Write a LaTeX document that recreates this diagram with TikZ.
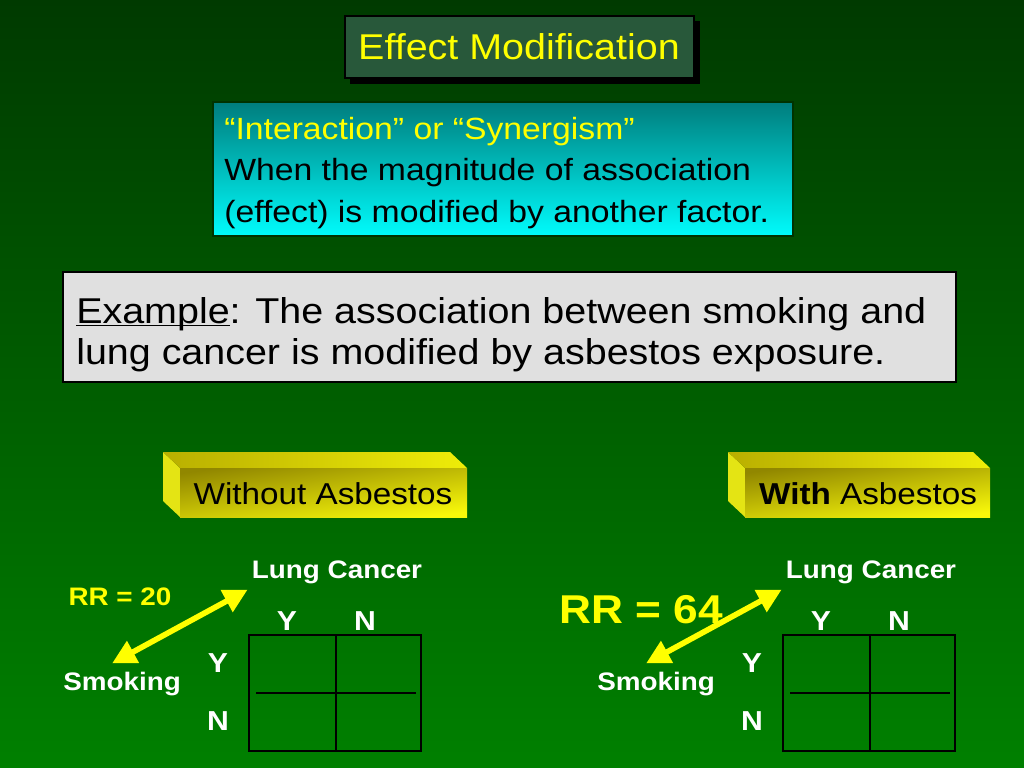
\documentclass[tikz,border=0pt]{standalone}
\usepackage{fontspec}
\setmainfont[FakeStretch=1.1]{Liberation Sans}
\usetikzlibrary{arrows.meta}
\definecolor{bgtop}{RGB}{0,58,0}
\definecolor{bgbottom}{RGB}{0,128,0}
\definecolor{titlegreen}{RGB}{40,88,58}
\definecolor{slideyellow}{RGB}{255,255,0}
\definecolor{tealtop}{RGB}{0,125,125}
\definecolor{cyanbottom}{RGB}{0,252,252}
\definecolor{boxgray}{RGB}{224,224,224}
\definecolor{yolive}{RGB}{145,135,0}
\definecolor{ybright}{RGB}{248,248,10}
\definecolor{ytop}{RGB}{185,175,0}
\definecolor{yside}{RGB}{228,228,20}

\begin{document}
\begin{tikzpicture}[x=0.025cm, y=-0.025cm,
    txt/.style={inner sep=0pt, anchor=base west},
    lbl/.style={inner sep=0pt, anchor=base, text=white, font=\fontsize{18}{21}\selectfont\bfseries},
    yn/.style={lbl, font=\fontsize{19.5}{23}\selectfont\bfseries},
    tbl/.style={line width=1.6pt},
    dblarrow/.style={slideyellow, line width=4pt,
      {Triangle[length=17pt,width=17pt]}-{Triangle[length=17pt,width=17pt]}}]
        \useasboundingbox (0,0) rectangle (1024,768);
        \shade[top color=bgtop, bottom color=bgbottom] (0,0) rectangle (1024,768);

        \fill[black] (350,21) rectangle (700,84);
        \draw[fill=titlegreen, line width=2pt] (345,16) rectangle (694,78);
        \node[inner sep=0pt, anchor=base, text=slideyellow, font=\fontsize{25.5}{30}\selectfont] (title) at (519,60) {Effect Modification};

        \shade[top color=tealtop, bottom color=cyanbottom] (213,102) rectangle (793,236);
        \draw[black!80!green, line width=1.2pt] (213,102) rectangle (793,236);
        \node[txt, text=slideyellow, font=\fontsize{21.8}{26}\selectfont] (def1) at (224,140) {“Interaction” or “Synergism”};
        \node[txt, font=\fontsize{21.8}{26}\selectfont] (def2) at (224,181) {When the magnitude of association};
        \node[txt, font=\fontsize{21.8}{26}\selectfont] (def3) at (224,222) {(effect) is modified by another factor.};

        \draw[fill=boxgray, line width=2pt] (63,272) rectangle (956,382);
        \node[txt, font=\fontsize{25.5}{30}\selectfont] (ex1) at (76,323) {\underline{\smash{Example}}: The association between smoking and};
        \node[txt, font=\fontsize{25.5}{30}\selectfont] (ex2) at (76,364) {lung cancer is modified by asbestos exposure.};

        \foreach \bx/\bw in {163/287, 728/245} {
          \fill[yside] (\bx,452) -- (\bx+17,468) -- (\bx+17,517) -- (\bx,501) -- cycle;
          \shade[left color=ytop, right color=ybright!85!ytop] (\bx,452) -- (\bx+\bw,452) -- (\bx+\bw+17,468) -- (\bx+17,468) -- cycle;
          \shade[top color=yolive, bottom color=ybright, shading angle=8] (\bx+17,468) rectangle (\bx+\bw+17,517);
        }
        \node[inner sep=0pt, anchor=base, font=\fontsize{21.5}{25}\selectfont] (without) at (323,504) {Without Asbestos};
        \node[inner sep=0pt, anchor=base, font=\fontsize{21.5}{25}\selectfont] (with) at (868,504) {\textbf{With} Asbestos};

        \node[inner sep=0pt, anchor=base, text=slideyellow, font=\fontsize{18}{21}\selectfont\bfseries] (rrl) at (120,605) {RR = 20};
        \node[inner sep=0pt, anchor=base, text=slideyellow, font=\fontsize{28.6}{33}\selectfont\bfseries] (rrr) at (641,623) {RR = 64};

        \foreach \i/\dx in {l/0, r/534} {
          \node[lbl] (lung\i) at (337+\dx,578) {Lung Cancer};
          \node[lbl, anchor=base west] (smoke\i) at (63+\dx,690) {Smoking};
          \node[yn] (coly\i) at (287+\dx,630) {Y};
          \node[yn] (coln\i) at (365+\dx,630) {N};
          \node[yn] (rowy\i) at (218+\dx,672) {Y};
          \node[yn] (rown\i) at (218+\dx,730) {N};
          \draw[tbl] (249+\dx,635) rectangle (421+\dx,751);
          \draw[tbl] (336+\dx,635) -- (336+\dx,751);
          \draw[tbl] (256+\dx,693) -- (416+\dx,693);
          \draw[dblarrow] ([shift={(-10,-8)}]smoke\i.north) -- ([shift={(-4,6)}]lung\i.south west);
        }
      \end{tikzpicture}
\end{document}
